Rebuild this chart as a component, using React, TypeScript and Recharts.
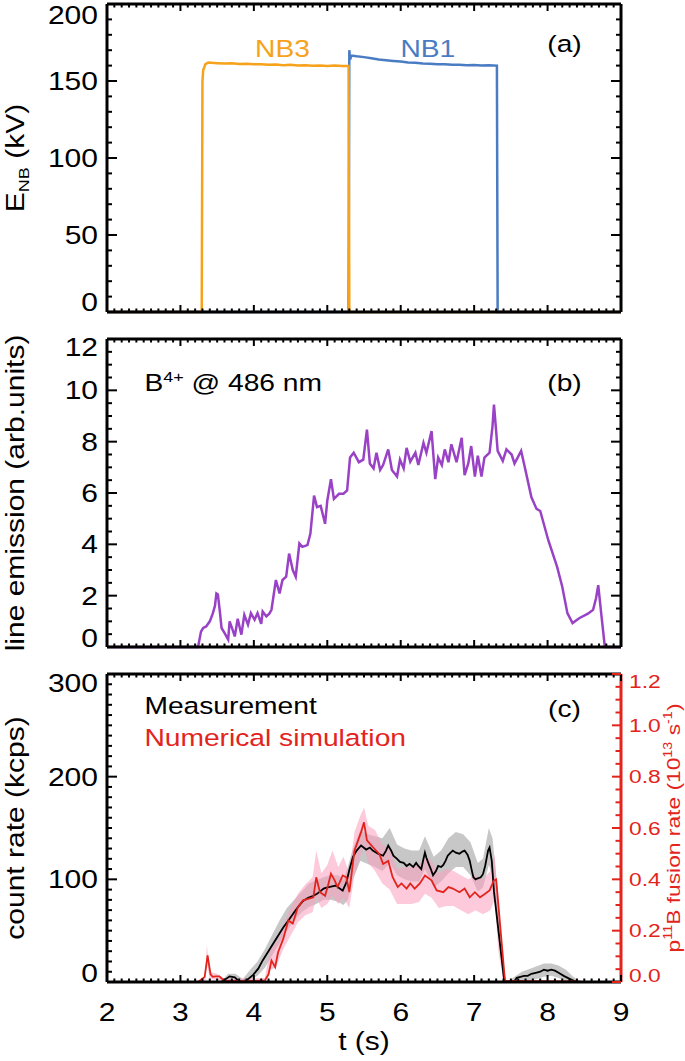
import React from 'react'
import { ComposedChart, Line, Area, XAxis, YAxis, ReferenceDot } from 'recharts'

const FONT = '"Liberation Sans", Arimo, Arial, Helvetica, sans-serif'
const W = 685
const PLOT_W = 514 // 685 - 107 (left axis) - 64 (right axis)
const PLOT_H = 308
const SX = 1.2 // the original figure font is a bit wider than Helvetica
const INK = '#000'
const RED = '#e3241c'
const ORANGE = '#f6a21a'
const BLUE = '#4a7cc4'
const PURPLE = '#9a42c6'

// ─── (a) beam energy ───────────────────────────────────────────────────────
const nb3Time = [2.0, 3.29, 3.30, 3.31, 3.34, 3.38, 3.5, 3.6, 3.7, 3.8, 3.9, 4.0, 4.1, 4.2, 4.3, 4.4, 4.5, 4.6, 4.7, 4.8, 4.9, 5.0, 5.1, 5.2, 5.29, 5.30, 9.0]
const nb3Energy = [0, 0, 150, 157, 161, 162, 161.6, 161.3, 161.5, 161, 161.2, 160.8, 160.9, 160.5, 160.7, 160.3, 160.5, 160.1, 160.3, 159.9, 160.1, 159.8, 160, 159.7, 159.8, 0, 0]
const nb1Time = [2.0, 5.29, 5.30, 5.31, 5.33, 5.4, 5.5, 5.6, 5.7, 5.8, 5.9, 6.0, 6.1, 6.2, 6.3, 6.4, 6.5, 6.6, 6.7, 6.8, 6.9, 7.0, 7.1, 7.2, 7.31, 7.32, 9.0]
const nb1Energy = [0, 0, 170, 164, 166.5, 166, 165.5, 164.8, 164, 163.5, 163, 162.6, 162, 161.8, 161.3, 161.2, 160.8, 160.9, 160.5, 160.6, 160.2, 160.4, 160.1, 160.3, 160, 0, 0]

// ─── (b) B4+ line emission ─────────────────────────────────────────────────
const emisTime = [
  2.0, 3.24, 3.28, 3.31, 3.35, 3.40, 3.44, 3.47, 3.49, 3.51, 3.54, 3.56, 3.60, 3.65, 3.67, 3.71, 3.74, 3.78, 3.83, 3.87,
  3.92, 3.96, 4.01, 4.05, 4.10, 4.12, 4.17, 4.21, 4.24, 4.30, 4.35, 4.39, 4.44, 4.48, 4.53, 4.57, 4.62, 4.66, 4.73, 4.77,
  4.82, 4.86, 4.91, 4.97, 5.00, 5.05, 5.09, 5.16, 5.22, 5.27, 5.31, 5.36, 5.43, 5.49, 5.54, 5.58, 5.63, 5.67, 5.72, 5.76,
  5.83, 5.88, 5.95, 5.99, 6.04, 6.08, 6.13, 6.20, 6.24, 6.31, 6.35, 6.42, 6.47, 6.51, 6.56, 6.60, 6.65, 6.69, 6.76, 6.83,
  6.87, 6.92, 6.96, 7.01, 7.05, 7.10, 7.14, 7.21, 7.25, 7.27, 7.30, 7.32, 7.39, 7.44, 7.51, 7.55, 7.64, 7.69, 7.78, 7.85,
  7.90, 8.01, 8.13, 8.20, 8.27, 8.34, 8.43, 8.55, 8.62, 8.66, 8.69, 8.73, 8.78, 9.0,
]
const emisValue = [
  0, 0, 0.6, 0.74, 0.8, 1.0, 1.3, 1.6, 2.09, 2.05, 1.3, 0.74, 0.55, 0.29, 1.0, 0.68, 0.41, 1.1, 0.48, 1.25,
  0.87, 1.32, 1.06, 1.32, 0.9, 1.38, 1.19, 1.3, 1.45, 2.61, 2.09, 2.61, 2.74, 3.64, 3.0, 2.74, 4.03, 3.9, 3.97, 4.42,
  5.9, 5.45, 5.5, 4.8, 5.7, 6.54, 5.77, 5.97, 5.97, 6.1, 7.38, 7.57, 7.2, 7.3, 8.47, 7.15, 6.96, 7.57, 6.9, 7.09,
  7.7, 6.9, 6.64, 7.3, 6.96, 7.76, 7.22, 7.57, 7.09, 7.95, 7.57, 8.41, 6.54, 7.38, 7.09, 7.7, 7.2, 7.9, 7.2, 8.15,
  6.7, 7.15, 7.83, 6.64, 7.45, 6.64, 7.38, 7.57, 8.6, 9.44, 8.4, 7.64, 7.25, 7.7, 7.5, 7.15, 7.64, 7.0, 5.83, 5.38,
  5.3, 4.16, 3.12, 2.35, 1.32, 0.93, 1.12, 1.3, 1.45, 1.9, 2.41, 1.32, 0, 0,
]

// ─── (c) measured count rate (kcps) ────────────────────────────────────────
const measTime = [
  3.55, 3.60, 3.67, 3.74, 3.80, 3.90, 3.99, 4.06, 4.12, 4.19, 4.26, 4.33, 4.40, 4.47, 4.53, 4.60, 4.67, 4.74, 4.81, 4.86,
  4.90, 4.95, 4.99, 5.05, 5.12, 5.17, 5.21, 5.26, 5.30, 5.35, 5.40, 5.46, 5.53, 5.58, 5.62, 5.69, 5.76, 5.80, 5.83, 5.87,
  5.90, 5.95, 5.99, 6.04, 6.08, 6.12, 6.17, 6.21, 6.24, 6.28, 6.31, 6.33, 6.35, 6.37, 6.41, 6.44, 6.48, 6.51, 6.55, 6.58,
  6.61, 6.64, 6.68, 6.71, 6.75, 6.80, 6.84, 6.87, 6.91, 6.94, 6.97, 6.99, 7.02, 7.05, 7.09, 7.12, 7.15, 7.19, 7.21, 7.24,
  7.27, 7.41, 7.45, 7.55, 7.58, 7.63, 7.68, 7.73, 7.78, 7.84, 7.90, 7.95, 8.00, 8.05, 8.10, 8.15, 8.22, 8.30, 8.38, 8.42,
]
const measRate = [
  0, 2, 5.5, 4.5, 0.5, 1.5, 7, 13, 21, 29, 37, 45, 53, 60, 66, 73, 79, 82, 84, 86,
  88, 91, 92, 93, 94, 91, 89, 97, 109, 122, 128, 133, 129, 131, 128, 125, 123, 128, 133, 128,
  123, 120, 117, 116, 113, 115, 112, 116, 113, 110, 120, 126, 121, 117, 110, 104, 108, 113, 112, 114,
  118, 123, 126, 128, 126, 125, 127, 128, 124, 118, 108, 102, 100, 101, 102, 105, 113, 128, 131, 118,
  88, 1, 0, 1, 4, 5, 6, 6, 8, 9, 10, 12, 11, 12, 11, 9, 6, 3, 0.5, 0,
]
const measBandTime = [
  3.55, 3.65, 3.75, 3.85, 3.95, 4.05, 4.15, 4.25, 4.35, 4.45, 4.55, 4.65, 4.75, 4.85, 4.95, 5.05, 5.15, 5.22, 5.28, 5.35,
  5.45, 5.55, 5.65, 5.75, 5.85, 5.95, 6.05, 6.15, 6.25, 6.33, 6.45, 6.55, 6.65, 6.75, 6.85, 6.95, 7.05, 7.12, 7.20, 7.25,
  7.32, 7.40, 7.45, 7.55, 7.65, 7.80, 7.95, 8.05, 8.15, 8.25, 8.35, 8.45,
]
const measBandLo = [
  0, 0, 0, 0, 2, 6, 14, 26, 38, 50, 60, 68, 73, 76, 80, 80, 78, 75, 80, 100,
  118, 115, 112, 108, 116, 104, 100, 98, 98, 110, 92, 98, 106, 112, 112, 104, 88, 92, 114, 104,
  50, 0, 0, 0, 0, 2, 5, 6, 4, 1, 0, 0,
]
const measBandHi = [
  0, 8, 8, 3, 12, 20, 32, 46, 60, 72, 80, 88, 96, 99, 102, 104, 104, 100, 112, 130,
  148, 144, 142, 140, 150, 134, 130, 128, 128, 142, 122, 128, 140, 146, 144, 136, 116, 120, 150, 140,
  90, 12, 0, 5, 10, 14, 18, 18, 16, 12, 5, 0,
]

// ─── (c) simulated p-11B fusion rate (10^13 /s) ────────────────────────────
const simTime = [
  3.24, 3.33, 3.37, 3.41, 3.44, 3.48, 3.53, 3.57, 3.62, 3.80, 4.00, 4.15, 4.20, 4.24, 4.29, 4.33, 4.40, 4.47, 4.53, 4.60,
  4.67, 4.74, 4.81, 4.85, 4.90, 4.97, 5.01, 5.05, 5.10, 5.14, 5.21, 5.26, 5.30, 5.37, 5.46, 5.50, 5.54, 5.62, 5.71, 5.76,
  5.83, 5.89, 5.96, 6.01, 6.08, 6.13, 6.19, 6.26, 6.33, 6.42, 6.49, 6.58, 6.65, 6.71, 6.80, 6.87, 6.94, 7.01, 7.08, 7.15,
  7.21, 7.27, 7.30, 7.42, 8.45,
]
const simRate = [
  0, 0.02, 0.104, 0.03, 0.02, 0.022, 0.022, 0.012, 0.004, 0.004, 0.004, 0.006, 0.03, 0.084, 0.058, 0.116, 0.168, 0.24, 0.228, 0.292,
  0.318, 0.324, 0.33, 0.408, 0.35, 0.336, 0.376, 0.422, 0.396, 0.37, 0.415, 0.408, 0.35, 0.512, 0.584, 0.622, 0.552, 0.526, 0.498, 0.46,
  0.472, 0.408, 0.37, 0.384, 0.364, 0.384, 0.364, 0.384, 0.415, 0.396, 0.357, 0.35, 0.37, 0.364, 0.35, 0.364, 0.33, 0.35, 0.33, 0.344,
  0.357, 0.396, 0.40, 0.004, 0.002,
]
const simBandTime = [
  3.30, 3.34, 3.36, 3.40, 3.50, 3.60, 4.15, 4.22, 4.30, 4.40, 4.50, 4.60, 4.70, 4.80, 4.85, 4.92, 5.00, 5.07, 5.15, 5.22,
  5.30, 5.37, 5.45, 5.50, 5.56, 5.65, 5.75, 5.85, 5.95, 6.05, 6.15, 6.25, 6.33, 6.42, 6.52, 6.62, 6.72, 6.82, 6.92, 7.02,
  7.12, 7.22, 7.28, 7.33, 7.40, 7.45,
]
const simBandLo = [
  0, 0, 0.072, 0.012, 0.008, 0, 0, 0.048, 0.056, 0.128, 0.18, 0.232, 0.26, 0.272, 0.328, 0.288, 0.304, 0.336, 0.304, 0.328,
  0.288, 0.416, 0.488, 0.528, 0.464, 0.432, 0.384, 0.36, 0.304, 0.304, 0.304, 0.312, 0.344, 0.328, 0.288, 0.296, 0.296, 0.28, 0.264, 0.28,
  0.264, 0.28, 0.32, 0.12, 0, 0,
]
const simBandHi = [
  0, 0.04, 0.144, 0.04, 0.032, 0.012, 0.016, 0.128, 0.152, 0.22, 0.288, 0.344, 0.38, 0.408, 0.512, 0.424, 0.456, 0.512, 0.448, 0.488,
  0.424, 0.584, 0.648, 0.68, 0.608, 0.592, 0.536, 0.52, 0.44, 0.448, 0.448, 0.456, 0.488, 0.472, 0.424, 0.44, 0.432, 0.416, 0.4, 0.416,
  0.4, 0.432, 0.496, 0.28, 0.016, 0,
]

// ─── ticks ─────────────────────────────────────────────────────────────────
const range = (lo: number, hi: number, step: number) =>
  Array.from({ length: Math.round((hi - lo) / step) + 1 }, (_, i) => +(lo + i * step).toFixed(3))

const xMajor = [2, 3, 4, 5, 6, 7, 8, 9]
const xTicks = range(2, 9, 0.1)
const enbMajor = [0, 50, 100, 150, 200]
const enbTicks = range(0, 200, 10)
const emisMajor = [0, 2, 4, 6, 8, 10, 12]
const emisTicks = range(0, 12, 0.5)
const rateMajor = [0, 100, 200, 300]
const rateTicks = range(0, 300, 10)
const fusionMajor = [0, 0.2, 0.4, 0.6, 0.8, 1.0, 1.2]
const fusionTicks = range(0, 1.2, 0.05)

const zip = (t: number[], v: number[]) => t.map((x, i) => ({ t: x, v: v[i] }))
const zipBand = (t: number[], lo: number[], hi: number[]) => t.map((x, i) => ({ t: x, band: [lo[i], hi[i]] }))

const nb3 = zip(nb3Time, nb3Energy)
const nb1 = zip(nb1Time, nb1Energy)
const emission = zip(emisTime, emisValue)
const measured = zip(measTime, measRate)
const measuredBand = zipBand(measBandTime, measBandLo, measBandHi)
const simulated = zip(simTime, simRate)
const simulatedBand = zipBand(simBandTime, simBandLo, simBandHi)

// text drawn slightly stretched along its own direction
function Txt({ x, y, rot = 0, anchor = 'start', fs, fill = INK, children }: any) {
  return (
    <text
      transform={`translate(${x} ${y}) rotate(${rot}) scale(${SX} 1)`}
      textAnchor={anchor}
      fontSize={fs}
      fontFamily={FONT}
      fill={fill}
    >
      {children}
    </text>
  )
}

type Side = 'left' | 'right' | 'bottom'
interface TickSpec {
  side: Side
  majors: number[]
  long: number
  short: number
  color?: string
  fs?: number
  format?: (v: number) => string
  nudge?: (v: number) => number
  mirror?: boolean // also draw the tick on the opposite side of the box
}

// inward IDL-style ticks, labels only on majors
function makeTick(s: TickSpec) {
  const color = s.color ?? INK
  return (p: any) => {
    const v = Number(p.payload?.value)
    const x = Number(p.x)
    const y = Number(p.y)
    const isMajor = s.majors.some(m => Math.abs(m - v) < 1e-6)
    const len = isMajor ? s.long : s.short
    const marks: React.ReactNode[] = []
    if (s.side === 'left') {
      marks.push(<line key="a" x1={x} y1={y} x2={x + len} y2={y} stroke={color} strokeWidth={2} />)
      if (s.mirror) marks.push(<line key="b" x1={x + PLOT_W} y1={y} x2={x + PLOT_W - len} y2={y} stroke={color} strokeWidth={2} />)
    } else if (s.side === 'right') {
      marks.push(<line key="a" x1={x} y1={y} x2={x - len} y2={y} stroke={color} strokeWidth={2} />)
    } else {
      marks.push(<line key="a" x1={x} y1={y} x2={x} y2={y - len} stroke={color} strokeWidth={2} />)
      if (s.mirror) marks.push(<line key="b" x1={x} y1={y - PLOT_H} x2={x} y2={y - PLOT_H + len} stroke={color} strokeWidth={2} />)
    }
    if (s.format && isMajor) {
      const fs = s.fs ?? 25
      const shift = s.nudge ? s.nudge(v) : 0
      const text = s.format(v)
      if (s.side === 'left')
        marks.push(<Txt key="t" x={x - 9} y={y + shift + fs * 0.355} anchor="end" fs={fs} fill={color}>{text}</Txt>)
      else if (s.side === 'right')
        marks.push(<Txt key="t" x={x + 8} y={y + shift + fs * 0.355} anchor="start" fs={fs} fill={color}>{text}</Txt>)
      else marks.push(<Txt key="t" x={x} y={y + 39} anchor="middle" fs={fs} fill={color}>{text}</Txt>)
    }
    return <g>{marks}</g>
  }
}

const edge = (lo: number, hi: number, up = 10, down = 9) => (v: number) =>
  Math.abs(v - hi) < 1e-6 ? up : Math.abs(v - lo) < 1e-6 ? -down : 0

const frame = { stroke: INK, strokeWidth: 3 }
const axisBase = { type: 'number' as const, interval: 0 as const, tickSize: 0, tickMargin: 0, tickLine: false }

const leftTitle = (content: React.ReactNode) => (p: any) => {
  const vb = p.viewBox || {}
  return <Txt x={vb.x + 24} y={vb.y + vb.height / 2} rot={-90} anchor="middle" fs={25}>{content}</Txt>
}

const note = (content: React.ReactNode, anchor: string, fill = INK, fs = 23.5) => (p: any) => {
  const vb = p.viewBox || {}
  const cx = vb.x + (vb.width || 0) / 2
  const cy = vb.y + (vb.height || 0) / 2
  return <Txt x={cx} y={cy + fs * 0.355} anchor={anchor} fs={fs} fill={fill}>{content}</Txt>
}

function xAxes(bottomHeight: number, labels: boolean) {
  return [
    <XAxis
      key="xb"
      dataKey="t"
      {...axisBase}
      domain={[2, 9]}
      ticks={xTicks}
      height={bottomHeight}
      axisLine={frame}
      tick={makeTick({ side: 'bottom', majors: xMajor, long: 7, short: 3.5, mirror: true, format: labels ? v => String(v) : undefined })}
      label={
        labels
          ? (p: any) => {
              const vb = p.viewBox || {}
              return <Txt x={vb.x + vb.width / 2} y={vb.y + 68} anchor="middle" fs={25}>t (s)</Txt>
            }
          : undefined
      }
    />,
    <XAxis key="xt" xAxisId="top" orientation="top" {...axisBase} domain={[2, 9]} ticks={xMajor} height={1} axisLine={frame} tick={false} />,
  ]
}

const rightFrame = (domain: number[], color = INK) => (
  <YAxis yAxisId="r" orientation="right" {...axisBase} domain={domain} width={64} axisLine={{ ...frame, stroke: color }} tick={false} />
)

function EnergyPanel() {
  return (
    <ComposedChart width={W} height={322} margin={{ top: 3, right: 0, bottom: 0, left: 0 }}>
      {xAxes(10, false)}
      <YAxis
        {...axisBase}
        domain={[0, 200]}
        ticks={enbTicks}
        width={107}
        axisLine={frame}
        tick={makeTick({ side: 'left', majors: enbMajor, long: 10, short: 5, mirror: true, format: v => String(v), nudge: edge(0, 200, 11, 10) })}
        label={leftTitle(<>E<tspan dy={5} fontSize={15}>NB</tspan><tspan dy={-5}> (kV)</tspan></>)}
      />
      {rightFrame([0, 200])}
      <Line data={nb1} dataKey="v" type="linear" stroke={BLUE} strokeWidth={2.5} dot={false} activeDot={false} isAnimationActive={false} />
      <Line data={nb3} dataKey="v" type="linear" stroke={ORANGE} strokeWidth={2.5} dot={false} activeDot={false} isAnimationActive={false} />
      <ReferenceDot x={4.39} y={171} r={0} fill="none" stroke="none" label={note('NB3', 'middle', ORANGE)} />
      <ReferenceDot x={6.37} y={171} r={0} fill="none" stroke="none" label={note('NB1', 'middle', BLUE)} />
      <ReferenceDot x={8.23} y={174} r={0} fill="none" stroke="none" label={note('(a)', 'middle')} />
    </ComposedChart>
  )
}

function EmissionPanel() {
  return (
    <ComposedChart width={W} height={327} margin={{ top: 8, right: 0, bottom: 0, left: 0 }}>
      {xAxes(10, false)}
      <YAxis
        {...axisBase}
        domain={[0, 12]}
        ticks={emisTicks}
        width={107}
        axisLine={frame}
        tick={makeTick({ side: 'left', majors: emisMajor, long: 10, short: 5, mirror: true, format: v => String(v), nudge: edge(0, 12, 8, 9) })}
        label={leftTitle('line emission (arb.units)')}
      />
      {rightFrame([0, 12])}
      <Line data={emission} dataKey="v" type="linear" stroke={PURPLE} strokeWidth={2.5} dot={false} activeDot={false} isAnimationActive={false} />
      <ReferenceDot x={2.51} y={10.28} r={0} fill="none" stroke="none"
        label={note(<>B<tspan dy={-9} fontSize={15}>4+</tspan><tspan dy={9}> @ 486 nm</tspan></>, 'start')} />
      <ReferenceDot x={8.23} y={10.3} r={0} fill="none" stroke="none" label={note('(b)', 'middle')} />
    </ComposedChart>
  )
}

function RatePanel() {
  return (
    <ComposedChart width={W} height={397} margin={{ top: 9, right: 0, bottom: 0, left: 0 }}>
      {xAxes(79, true)}
      <YAxis
        {...axisBase}
        domain={[0, 300]}
        ticks={rateTicks}
        width={107}
        axisLine={frame}
        tick={makeTick({ side: 'left', majors: rateMajor, long: 10, short: 5, format: v => String(v), nudge: edge(0, 300, 9, 9) })}
        label={leftTitle('count rate (kcps)')}
      />
      <YAxis
        yAxisId="r"
        orientation="right"
        {...axisBase}
        domain={[0, 1.2]}
        ticks={fusionTicks}
        width={64}
        axisLine={{ ...frame, stroke: RED }}
        tick={makeTick({ side: 'right', majors: fusionMajor, long: 9, short: 5.5, color: RED, fs: 19, format: v => v.toFixed(1), nudge: edge(0, 1.2, 7, 7) })}
        label={(p: any) => {
          const vb = p.viewBox || {}
          return (
            <Txt x={vb.x + 59} y={vb.y + vb.height / 2} rot={-90} anchor="middle" fs={19} fill={RED}>
              p<tspan dy={-8} fontSize={12}>11</tspan><tspan dy={8}>B fusion rate (10</tspan>
              <tspan dy={-8} fontSize={12}>13</tspan><tspan dy={8}> s</tspan>
              <tspan dy={-8} fontSize={12}>-1</tspan><tspan dy={8}>)</tspan>
            </Txt>
          )
        }}
      />
      <Area data={measuredBand} dataKey="band" type="linear" stroke="none" fill="#8f8f8f" fillOpacity={0.5} isAnimationActive={false} />
      <Area data={simulatedBand} dataKey="band" yAxisId="r" type="linear" stroke="none" fill="#fa9fbe" fillOpacity={0.55} isAnimationActive={false} />
      <Line data={measured} dataKey="v" type="linear" stroke={INK} strokeWidth={1.8} dot={false} activeDot={false} isAnimationActive={false} />
      <Line data={simulated} dataKey="v" yAxisId="r" type="linear" stroke={RED} strokeWidth={1.8} dot={false} activeDot={false} isAnimationActive={false} />
      <ReferenceDot x={2.51} y={268.7} r={0} fill="none" stroke="none" label={note('Measurement', 'start')} />
      <ReferenceDot x={2.51} y={238.3} r={0} fill="none" stroke="none" label={note('Numerical simulation', 'start', RED)} />
      <ReferenceDot x={8.23} y={266.7} r={0} fill="none" stroke="none" label={note('(c)', 'middle')} />
    </ComposedChart>
  )
}

export default function App() {
  return (
    <div style={{ position: 'absolute', left: 0, top: 0, width: W, height: 1061, background: '#fff', fontFamily: FONT }}>
      <div style={{ position: 'absolute', left: 0, top: 0 }}>
        <EnergyPanel />
      </div>
      <div style={{ position: 'absolute', left: 0, top: 330 }}>
        <EmissionPanel />
      </div>
      <div style={{ position: 'absolute', left: 0, top: 664 }}>
        <RatePanel />
      </div>
    </div>
  )
}
